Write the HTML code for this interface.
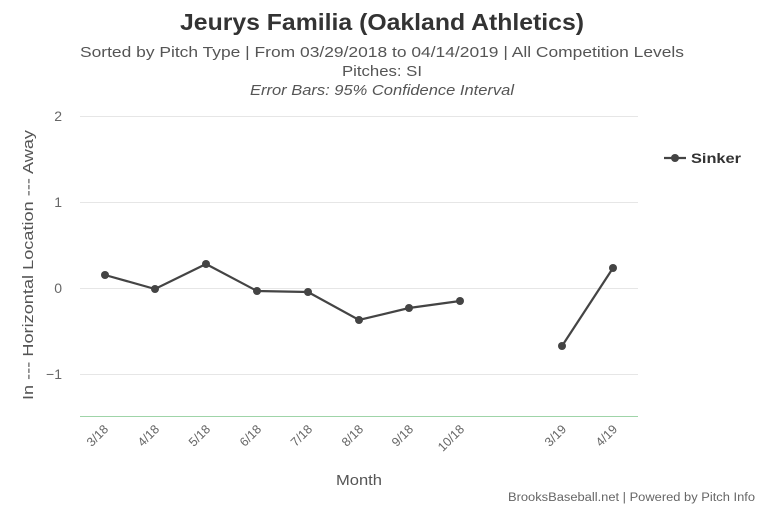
<!DOCTYPE html>
<html><head><meta charset="utf-8"><style>
body{margin:0;background:#fff;}
svg{display:block;font-family:"Liberation Sans",sans-serif;}
</style></head><body>
<svg width="764" height="509" viewBox="0 0 764 509" xmlns="http://www.w3.org/2000/svg">
<rect width="764" height="509" fill="#fff"/>
<text x="382" y="30" text-anchor="middle" font-size="23" font-weight="bold" fill="#333" textLength="404" lengthAdjust="spacingAndGlyphs">Jeurys Familia (Oakland Athletics)</text>
<text x="382" y="57" text-anchor="middle" font-size="15" fill="#555" textLength="604" lengthAdjust="spacingAndGlyphs">Sorted by Pitch Type | From 03/29/2018 to 04/14/2019 | All Competition Levels</text>
<text x="382" y="76" text-anchor="middle" font-size="15" fill="#555" textLength="80" lengthAdjust="spacingAndGlyphs">Pitches: SI</text>
<text x="382" y="95" text-anchor="middle" font-size="15" font-style="italic" fill="#555" textLength="264" lengthAdjust="spacingAndGlyphs">Error Bars: 95% Confidence Interval</text>
<g stroke="#e6e6e6" stroke-width="1">
<line x1="80" x2="638" y1="116.5" y2="116.5"/>
<line x1="80" x2="638" y1="202.5" y2="202.5"/>
<line x1="80" x2="638" y1="288.5" y2="288.5"/>
<line x1="80" x2="638" y1="374.5" y2="374.5"/>
</g>
<line x1="80" x2="638" y1="416.5" y2="416.5" stroke="#9fd4a8" stroke-width="1"/>
<g font-size="14" fill="#666" text-anchor="end">
<text x="62" y="121">2</text><text x="62" y="207">1</text><text x="62" y="293">0</text><text x="62" y="379">−1</text>
</g>
<text transform="translate(33,265) rotate(-90)" text-anchor="middle" font-size="15" fill="#555" textLength="270" lengthAdjust="spacingAndGlyphs">In --- Horizontal Location --- Away</text>
<g font-size="12.5" fill="#666" text-anchor="end">
<text transform="translate(109,430) rotate(-45)">3/18</text>
<text transform="translate(160,430) rotate(-45)">4/18</text>
<text transform="translate(211,430) rotate(-45)">5/18</text>
<text transform="translate(262,430) rotate(-45)">6/18</text>
<text transform="translate(313,430) rotate(-45)">7/18</text>
<text transform="translate(364,430) rotate(-45)">8/18</text>
<text transform="translate(414,430) rotate(-45)">9/18</text>
<text transform="translate(465,430) rotate(-45)">10/18</text>
<text transform="translate(567,430) rotate(-45)">3/19</text>
<text transform="translate(618,430) rotate(-45)">4/19</text>
</g>
<text x="359" y="485" text-anchor="middle" font-size="15" fill="#555" textLength="46" lengthAdjust="spacingAndGlyphs">Month</text>
<text x="755" y="501" text-anchor="end" font-size="11.5" fill="#666" textLength="247" lengthAdjust="spacingAndGlyphs">BrooksBaseball.net | Powered by Pitch Info</text>
<g stroke="#444" stroke-width="2.2" fill="none">
<polyline points="105,275 155,289 206,264 257,291 308,292 359,320 409,308 460,301"/>
<polyline points="562,346 613,268"/>
</g>
<g fill="#444">
<circle cx="105" cy="275" r="4"/><circle cx="155" cy="289" r="4"/><circle cx="206" cy="264" r="4"/><circle cx="257" cy="291" r="4"/><circle cx="308" cy="292" r="4"/><circle cx="359" cy="320" r="4"/><circle cx="409" cy="308" r="4"/><circle cx="460" cy="301" r="4"/><circle cx="562" cy="346" r="4"/><circle cx="613" cy="268" r="4"/>
</g>
<line x1="664" x2="686" y1="158" y2="158" stroke="#444" stroke-width="2.2"/>
<circle cx="675" cy="158" r="4" fill="#444"/>
<text x="691" y="163" font-size="14" font-weight="bold" fill="#333" textLength="50" lengthAdjust="spacingAndGlyphs">Sinker</text>
</svg>
</body></html>
